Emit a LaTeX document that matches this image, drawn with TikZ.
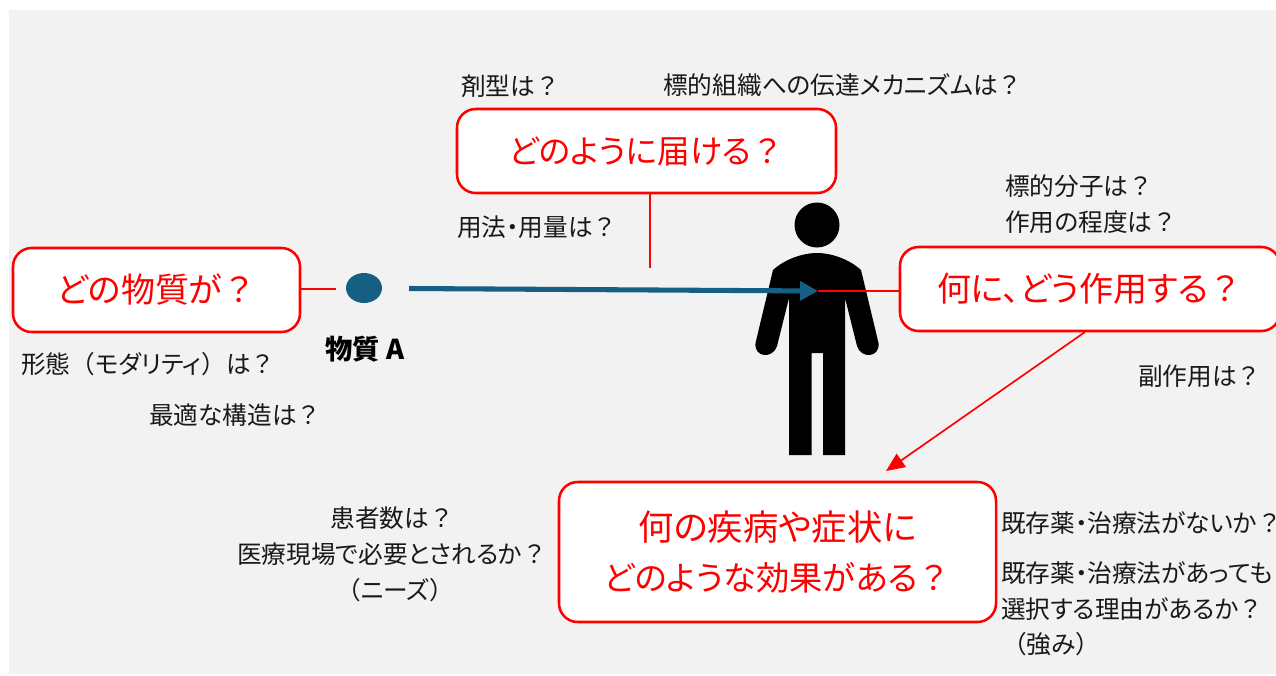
\documentclass[tikz,border=0pt]{standalone}
\usepackage{fontspec}
\setmainfont[RawFeature=+palt]{Noto Sans CJK JP}
\newfontfamily\fwfont{Noto Sans CJK JP}
\newcommand\Qm{{\fwfont ？}}
\newcommand\Lp{{\fwfont （}}
\newcommand\Rp{{\fwfont ）}}
\usetikzlibrary{arrows.meta,shapes.geometric}
\definecolor{bgc}{HTML}{F2F2F2}
\definecolor{tealc}{HTML}{156082}
\tikzset{
  px/.style={x=0.75pt,y=-0.75pt},
  qbox/.style={draw=red,line width=1.9pt,fill=white,rounded corners=14pt,inner sep=0pt,text=red,font=\fontsize{25.5}{37}\selectfont,align=center},
  note/.style={inner sep=0pt,text=black!90,font=\fontsize{18.5}{27}\selectfont},
  redline/.style={draw=red,line width=1.25pt},
}
\begin{document}
\begin{tikzpicture}[px]
\useasboundingbox (0,0) rectangle (1276,675);
\fill[white] (0,0) rectangle (1276,675);
\fill[bgc] (9,10) rectangle (1276,674);
% person
\fill[black] (817,225) circle[radius=22.5];
\fill[black] (789,455) -- (789,298) -- (777,346)
  .. controls (773,359) and (754,358) .. (755.5,343)
  -- (773,270) .. controls (785,259) and (803,253) .. (817,253)
  .. controls (831,253) and (849,259) .. (861,270) -- (878.5,343)
  .. controls (880,358) and (861,359) .. (857,346)
  -- (845,298) -- (845,455) -- (823,455) -- (823,353) -- (811.5,353) -- (811.5,455) -- cycle;
% boxes
\node[qbox,minimum width=287pt*0.75,minimum height=84pt*0.75] (b1) at (156.5,290) {どの物質が\Qm};
\node[qbox,minimum width=379pt*0.75,minimum height=84pt*0.75,font=\fontsize{24.5}{37}\selectfont] (b2) at (646.5,151) {どのように届ける\Qm};
\node[qbox,minimum width=380pt*0.75,minimum height=84pt*0.75] (b3) at (1090,289) {何に、どう作用する\Qm};
\node[qbox,minimum width=437pt*0.75,minimum height=140pt*0.75] (b4) at (777.5,552) {{\fontsize{26.5}{37}\selectfont 何の疾病や症状に}\\{\fontsize{25}{37}\selectfont どのような効果がある\Qm}};
% substance
\node[ellipse,fill=tealc,minimum width=36pt*0.75,minimum height=30pt*0.75,inner sep=0pt] (dot) at (364,288) {};
\node[inner sep=0pt,font=\fontsize{20.5}{24}\selectfont\bfseries] (lbl) at (365,349) {物質 A};
% free ends
\coordinate (c1) at (336,289);
\coordinate (c2) at (650,268);
\coordinate (c3) at (409,288.5);
\coordinate (chest) at (818,291);
\coordinate (c4) at (886,471);
\coordinate (b3sw) at (1085,332);
% connectors
\draw[redline] (c1 -| b1.east) -- (c1);
\draw[redline] (b2.south -| c2) -- (c2);
\draw[draw=tealc,line width=3.8pt,-{Triangle[length=13.5pt,width=14pt]}] (c3) -- (chest);
\draw[redline] (chest) -- (chest -| b3.west);
\draw[redline,-{Triangle[length=14pt,width=12pt]}] (b3sw) -- (c4);
% notes
\node[note,anchor=west] (n1) at (461,86) {剤型は\Qm};
\node[note,anchor=west] (n2) at (663,85) {標的組織への伝達メカニズムは\Qm};
\node[note,anchor=west] (n3) at (457,227) {用法・用量は\Qm};
\node[note,anchor=west] (n4) at (1005,186) {標的分子は\Qm};
\node[note,anchor=west] (n5) at (1005,222) {作用の程度は\Qm};
\node[note,anchor=west] (n6) at (1138,376) {副作用は\Qm};
\node[note,anchor=west] (n7) at (21,364) {形態\Lp モダリティ\Rp は\Qm};
\node[note,anchor=west] (n8) at (149,415) {最適な構造は\Qm};
\node[note] (n9) at (392,518) {患者数は\Qm};
\node[note] (n10) at (392,554) {医療現場で必要とされるか\Qm};
\node[note] (n11) at (395,590) {\Lp ニーズ\Rp};
\node[note,anchor=west] (n12) at (1001,523) {既存薬・治療法がないか\Qm};
\node[note,anchor=west] (n13) at (1001,573) {既存薬・治療法があっても};
\node[note,anchor=west] (n14) at (1001,609) {選択する理由があるか\Qm};
\node[note,anchor=west] (n15) at (1002,644) {\Lp 強み\Rp};
\end{tikzpicture}
\end{document}
